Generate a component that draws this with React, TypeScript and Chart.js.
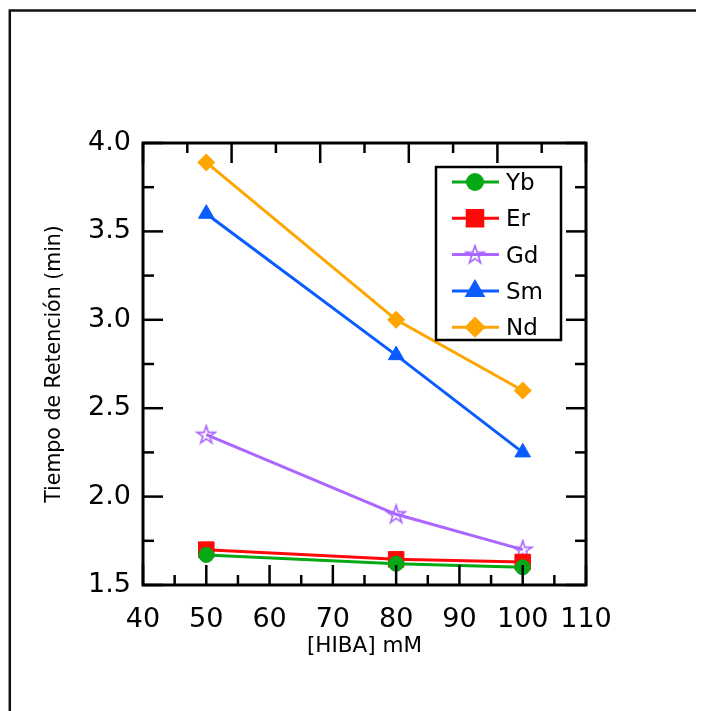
import React, { useEffect, useRef } from 'react';
import { Chart, registerables } from 'chart.js';
import { drawPoint } from 'chart.js/helpers';

Chart.register(...registerables);

// ---- data ----
const concentrations = [50, 80, 100];
const ybValues = [1.67, 1.62, 1.6];
const erValues = [1.7, 1.645, 1.63];
const gdValues = [2.35, 1.9, 1.7];
const smValues = [3.6, 2.8, 2.25];
const ndValues = [3.89, 3.0, 2.6];
const seriesLabels = ['Yb', 'Er', 'Gd', 'Sm', 'Nd'];
const seriesColors = ['#05a815', '#ff0a0a', '#aa66ff', '#0a5cff', '#ffa500'];

const xLabelTicks = [40, 50, 60, 70, 80, 90, 100, 110];
const xTickMarks = [40, 45, 50, 55, 60, 65, 70, 75, 80, 85, 90, 95, 100, 105, 110];
const yLabelTicks = [1.5, 2.0, 2.5, 3.0, 3.5, 4.0];
const yTickMarks = [1.5, 1.75, 2.0, 2.25, 2.5, 2.75, 3.0, 3.25, 3.5, 3.75, 4.0];
const topTickMarks = [0, 1, 2, 3, 4, 5, 6, 7, 8, 9, 10];

const FONT = "'DejaVu Sans', Verdana, sans-serif";

function makeStar(color: string): HTMLCanvasElement {
  const c = document.createElement('canvas');
  c.width = 22;
  c.height = 22;
  const g = c.getContext('2d')!;
  g.strokeStyle = color;
  g.lineWidth = 1.6;
  g.lineJoin = 'miter';
  const cx = 11, cy = 11.5, ro = 9.5, ri = 3.6;
  g.beginPath();
  for (let i = 0; i < 10; i++) {
    const r = i % 2 === 0 ? ro : ri;
    const ang = -Math.PI / 2 + (i * Math.PI) / 5;
    const px = cx + r * Math.cos(ang);
    const py = cy + r * Math.sin(ang);
    if (i === 0) g.moveTo(px, py);
    else g.lineTo(px, py);
  }
  g.closePath();
  g.stroke();
  return c;
}

const framePlugin = {
  id: 'frame',
  beforeDraw(chart: any) {
    const { ctx, width, height } = chart;
    ctx.save();
    ctx.fillStyle = '#fff';
    ctx.fillRect(0, 0, width, height);
    ctx.strokeStyle = '#111';
    ctx.lineWidth = 2.5;
    ctx.beginPath();
    ctx.moveTo(1.8, height + 5);
    ctx.lineTo(1.8, 2.5);
    ctx.lineTo(width + 5, 2.5);
    ctx.stroke();
    ctx.restore();
  },
};

const axesPlugin = {
  id: 'axesTicks',
  afterDatasetsDraw(chart: any) {
    const { ctx, chartArea: a, scales } = chart;
    const line = (x1: number, y1: number, x2: number, y2: number) => {
      ctx.beginPath();
      ctx.moveTo(x1, y1);
      ctx.lineTo(x2, y2);
      ctx.stroke();
    };
    ctx.save();
    ctx.strokeStyle = '#000';
    ctx.lineWidth = 2.5;
    for (const v of xTickMarks) {
      const px = scales.x.getPixelForValue(v);
      const len = v % 10 === 0 ? 20 : 10;
      line(px, a.bottom, px, a.bottom - len);
    }
    for (const v of topTickMarks) {
      const px = scales.x2.getPixelForValue(v);
      const len = v % 2 === 0 ? 20 : 10;
      line(px, a.top, px, a.top + len);
    }
    for (const v of yTickMarks) {
      const py = scales.y.getPixelForValue(v);
      const major = Math.abs(v * 2 - Math.round(v * 2)) < 1e-6;
      const len = major ? 20 : 11;
      line(a.left, py, a.left + len, py);
      line(a.right, py, a.right - len, py);
    }
    ctx.lineWidth = 3;
    ctx.strokeRect(a.left, a.top, a.right - a.left, a.bottom - a.top);
    ctx.restore();
  },
};

const legendPlugin = {
  id: 'insideLegend',
  afterDraw(chart: any) {
    const { ctx, chartArea: a } = chart;
    const bx = a.left + 293;
    const by = a.top + 24;
    const bw = 125;
    const bh = 173;
    ctx.save();
    ctx.fillStyle = '#fff';
    ctx.fillRect(bx, by, bw, bh);
    ctx.strokeStyle = '#000';
    ctx.lineWidth = 2.5;
    ctx.strokeRect(bx, by, bw, bh);
    chart.data.datasets.forEach((ds: any, i: number) => {
      const cy = by + 15 + i * 36.3;
      ctx.strokeStyle = ds.borderColor;
      ctx.lineWidth = 3;
      ctx.beginPath();
      ctx.moveTo(bx + 16, cy);
      ctx.lineTo(bx + 63, cy);
      ctx.stroke();
      ctx.fillStyle = ds.pointBackgroundColor;
      ctx.strokeStyle = ds.pointBorderColor;
      drawPoint(ctx, { pointStyle: ds.pointStyle, radius: ds.pointRadius, rotation: 0, borderWidth: 1 }, bx + 39, cy);
      ctx.fillStyle = '#000';
      ctx.font = `23px ${FONT}`;
      ctx.textBaseline = 'middle';
      ctx.textAlign = 'left';
      ctx.fillText(ds.label, bx + 70, cy + 2);
    });
    ctx.restore();
  },
};

export default function App() {
  const ref = useRef<HTMLCanvasElement>(null);
  useEffect(() => {
    if (!ref.current) return;
    const star = makeStar(seriesColors[2]);
    const values = [ybValues, erValues, gdValues, smValues, ndValues];
    const styles: any[] = ['circle', 'rect', star, 'triangle', 'rectRot'];
    const radii = [7.5, 11, 9, 9, 8.5];
    const datasets = seriesLabels.map((label, i) => ({
      label,
      data: concentrations.map((x, j) => ({ x, y: values[i][j] })),
      borderColor: seriesColors[i],
      backgroundColor: seriesColors[i],
      pointBackgroundColor: seriesColors[i],
      pointBorderColor: seriesColors[i],
      pointStyle: styles[i],
      pointRadius: radii[i],
      pointBorderWidth: 1,
      borderWidth: 3,
      tension: 0,
      fill: false,
      clip: false as any,
    }));
    const chart = new Chart(ref.current, {
      type: 'line',
      data: { datasets },
      options: {
        animation: false,
        responsive: false,
        layout: { padding: 0 },
        plugins: { legend: { display: false }, tooltip: { enabled: false } },
        scales: {
          x: {
            type: 'linear',
            position: 'bottom',
            min: 40,
            max: 110,
            afterBuildTicks: (s: any) => {
              s.ticks = xLabelTicks.map((v) => ({ value: v }));
            },
            afterFit: (s: any) => {
              s.height = 126;
            },
            grid: { display: false, drawTicks: false },
            border: { display: false },
            ticks: {
              padding: 19,
              color: '#000',
              font: { size: 27, family: FONT },
              maxRotation: 0,
              autoSkip: false,
              callback: (v: any) => String(v),
            },
            title: {
              display: true,
              text: '[HIBA] mM',
              color: '#000',
              font: { size: 21.5, family: FONT },
              padding: { top: 0, bottom: 52 },
            },
          },
          x2: {
            type: 'linear',
            axis: 'x',
            position: 'top',
            min: 0,
            max: 10,
            afterFit: (s: any) => {
              s.height = 135;
            },
            grid: { display: false, drawTicks: false },
            border: { display: false },
            ticks: { display: false },
          },
          y: {
            type: 'linear',
            position: 'left',
            min: 1.5,
            max: 4.0,
            afterBuildTicks: (s: any) => {
              s.ticks = yLabelTicks.map((v) => ({ value: v }));
            },
            afterFit: (s: any) => {
              s.width = 135;
            },
            grid: { display: false, drawTicks: false },
            border: { display: false },
            ticks: {
              padding: 12,
              color: '#000',
              font: { size: 27, family: FONT },
              autoSkip: false,
              callback: (v: any) => Number(v).toFixed(1),
            },
            title: {
              display: true,
              text: 'Tiempo de Retención (min)',
              color: '#000',
              font: { size: 20.5, family: FONT },
              padding: { top: 34, bottom: 0 },
            },
          },
          y2: {
            type: 'linear',
            axis: 'y',
            position: 'right',
            min: 1.5,
            max: 4.0,
            afterFit: (s: any) => {
              s.width = 118;
            },
            grid: { display: false, drawTicks: false },
            border: { display: false },
            ticks: { display: false },
          },
        },
      } as any,
      plugins: [framePlugin, axesPlugin, legendPlugin],
    });
    return () => chart.destroy();
  }, []);
  return (
    <div style={{ width: 696, height: 703 }}>
      <canvas ref={ref} width={696} height={703} style={{ display: 'block' }} />
    </div>
  );
}
